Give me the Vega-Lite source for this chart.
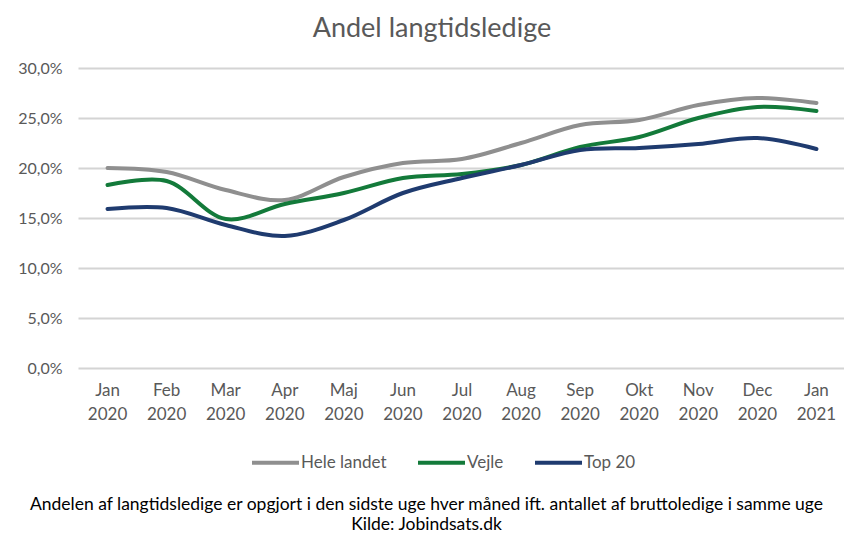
{
  "$schema": "https://vega.github.io/schema/vega-lite/v6.json",
  "autosize": "none",
  "width": 768,
  "height": 300,
  "padding": {"left": 78, "top": 68, "right": 0, "bottom": 168},
  "background": "white",
  "title": {
    "text": "Andel langtidsledige",
    "fontSize": 27,
    "font": "Lato",
    "fontWeight": "normal",
    "color": "#595959",
    "anchor": "middle",
    "dx": -30,
    "offset": 17
  },
  "config": {
    "view": {"stroke": null},
    "font": "Lato"
  },
  "data": {
    "values": [
      {"month": "Jan 2020", "serie": "Hele landet", "v": 20.0},
      {"month": "Feb 2020", "serie": "Hele landet", "v": 19.6},
      {"month": "Mar 2020", "serie": "Hele landet", "v": 17.8},
      {"month": "Apr 2020", "serie": "Hele landet", "v": 16.8},
      {"month": "Maj 2020", "serie": "Hele landet", "v": 19.1},
      {"month": "Jun 2020", "serie": "Hele landet", "v": 20.5},
      {"month": "Jul 2020", "serie": "Hele landet", "v": 20.9},
      {"month": "Aug 2020", "serie": "Hele landet", "v": 22.5},
      {"month": "Sep 2020", "serie": "Hele landet", "v": 24.3},
      {"month": "Okt 2020", "serie": "Hele landet", "v": 24.8},
      {"month": "Nov 2020", "serie": "Hele landet", "v": 26.3},
      {"month": "Dec 2020", "serie": "Hele landet", "v": 27.0},
      {"month": "Jan 2021", "serie": "Hele landet", "v": 26.5},
      {"month": "Jan 2020", "serie": "Vejle", "v": 18.3},
      {"month": "Feb 2020", "serie": "Vejle", "v": 18.7},
      {"month": "Mar 2020", "serie": "Vejle", "v": 14.9},
      {"month": "Apr 2020", "serie": "Vejle", "v": 16.4},
      {"month": "Maj 2020", "serie": "Vejle", "v": 17.5},
      {"month": "Jun 2020", "serie": "Vejle", "v": 19.0},
      {"month": "Jul 2020", "serie": "Vejle", "v": 19.4},
      {"month": "Aug 2020", "serie": "Vejle", "v": 20.3},
      {"month": "Sep 2020", "serie": "Vejle", "v": 22.1},
      {"month": "Okt 2020", "serie": "Vejle", "v": 23.1},
      {"month": "Nov 2020", "serie": "Vejle", "v": 25.0},
      {"month": "Dec 2020", "serie": "Vejle", "v": 26.1},
      {"month": "Jan 2021", "serie": "Vejle", "v": 25.7},
      {"month": "Jan 2020", "serie": "Top 20", "v": 15.9},
      {"month": "Feb 2020", "serie": "Top 20", "v": 16.0},
      {"month": "Mar 2020", "serie": "Top 20", "v": 14.3},
      {"month": "Apr 2020", "serie": "Top 20", "v": 13.2},
      {"month": "Maj 2020", "serie": "Top 20", "v": 14.8},
      {"month": "Jun 2020", "serie": "Top 20", "v": 17.5},
      {"month": "Jul 2020", "serie": "Top 20", "v": 19.0},
      {"month": "Aug 2020", "serie": "Top 20", "v": 20.3},
      {"month": "Sep 2020", "serie": "Top 20", "v": 21.8},
      {"month": "Okt 2020", "serie": "Top 20", "v": 22.0},
      {"month": "Nov 2020", "serie": "Top 20", "v": 22.4},
      {"month": "Dec 2020", "serie": "Top 20", "v": 23.0},
      {"month": "Jan 2021", "serie": "Top 20", "v": 21.9}
    ]
  },
  "mark": {"type": "line", "interpolate": "catmull-rom", "strokeWidth": 4, "strokeCap": "round"},
  "encoding": {
    "x": {
      "field": "month",
      "type": "ordinal",
      "sort": null,
      "scale": {"type": "band", "paddingInner": 0, "paddingOuter": 0},
      "axis": {
        "labelAngle": 0,
        "labelExpr": "split(datum.value, ' ')",
        "labelFontSize": 17,
        "labelColor": "#595959",
        "labelLineHeight": 24,
        "labelPadding": 14,
        "labelBaseline": "top",
        "ticks": false,
        "domain": false,
        "grid": false,
        "title": ["Andelen af langtidsledige er opgjort i den sidste uge hver måned ift. antallet af bruttoledige i samme uge", "Kilde: Jobindsats.dk"],
        "titleFontSize": 17.5,
        "titleFontWeight": "normal",
        "titleColor": "#000000",
        "titleLineHeight": 20,
        "titleBaseline": "top",
        "titleAlign": "center",
        "titleX": 348,
        "titleY": 127
      }
    },
    "y": {
      "field": "v",
      "type": "quantitative",
      "scale": {"domain": [0, 30], "nice": false},
      "axis": {
        "values": [0, 5, 10, 15, 20, 25, 30],
        "labelExpr": "replace(format(datum.value, '.1f'), '.', ',') + '%'",
        "labelFontSize": 16,
        "labelColor": "#595959",
        "labelPadding": 16,
        "ticks": false,
        "domain": false,
        "gridColor": "#d4d4d4",
        "gridWidth": 2,
        "title": null
      }
    },
    "color": {
      "field": "serie",
      "type": "nominal",
      "sort": ["Hele landet", "Vejle", "Top 20"],
      "scale": {"domain": ["Hele landet", "Vejle", "Top 20"], "range": ["#8f8f8f", "#137a3a", "#1f3b6f"]},
      "legend": {
        "title": null,
        "orient": "none",
        "direction": "horizontal",
        "legendX": 172,
        "legendY": 369,
        "symbolType": "stroke",
        "symbolSize": 2209,
        "symbolStrokeWidth": 4,
        "labelFontSize": 17,
        "labelColor": "#595959",
        "labelOffset": 0,
        "columnPadding": 23
      }
    }
  }
}
